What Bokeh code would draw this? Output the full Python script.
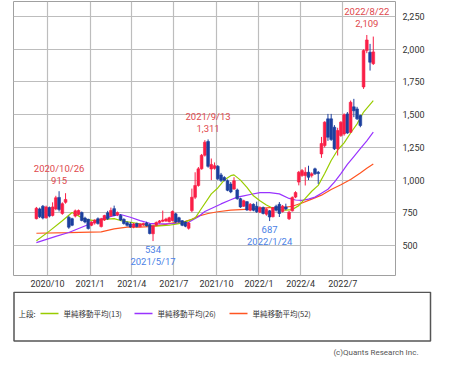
import pandas as pd
from bokeh.plotting import figure
from bokeh.layouts import column
from bokeh.models import ColumnDataSource, Range1d, FixedTicker, NumeralTickFormatter
from bokeh.embed import file_html
from bokeh.resources import INLINE
from bokeh.core.properties import value

# ---------------- data (weekly candles) ----------------
first_week = "2020-09-07"
opens = [705, 780, 800, 712, 790, 730, 780, 868, 745, 830,
         716, 705, 725, 738, 752, 710, 700, 655, 672, 705,
         645, 695, 750, 728, 782, 735, 730, 700, 675, 665,
         642, 668, 645, 658, 672, 660, 590, 655, 676, 685,
         688, 682, 691, 742, 712, 690, 678, 632, 767, 869,
         959, 1086, 1190, 1295, 1085, 1090, 1105, 1040, 1020, 995,
         970, 932, 925, 858, 800, 835, 770, 815, 800, 755,
         790, 740, 765, 720, 800, 815, 760, 795, 705, 765,
         870, 985, 1035, 1035, 1060, 1035, 1086, 1060, 1200, 1264,
         1468, 1468, 1404, 1239, 1341, 1353, 1506, 1366, 1560, 1544,
         1494, 1712, 1990, 1977, 1890]
highs = [795, 790, 810, 805, 798, 830, 880, 915, 830, 900,
         728, 712, 775, 775, 760, 720, 705, 685, 700, 715,
         712, 735, 765, 790, 805, 760, 740, 708, 685, 680,
         672, 675, 670, 675, 682, 668, 662, 684, 695, 767,
         712, 720, 768, 750, 720, 695, 685, 680, 935, 1060,
         1100, 1200, 1305, 1311, 1165, 1135, 1115, 1055, 1030, 1005,
         985, 1022, 935, 865, 850, 840, 825, 822, 835, 800,
         798, 785, 772, 795, 812, 832, 810, 820, 765, 875,
         915, 1070, 1085, 1098, 1110, 1060, 1095, 1070, 1330, 1450,
         1506, 1506, 1420, 1400, 1450, 1510, 1520, 1608, 1621, 1560,
         1500, 2000, 2109, 2041, 2097]
lows = [700, 710, 700, 705, 715, 722, 770, 760, 735, 820,
        628, 648, 715, 730, 685, 670, 622, 648, 660, 660,
        638, 688, 695, 720, 725, 725, 688, 660, 645, 635,
        632, 638, 640, 650, 645, 585, 534, 648, 668, 678,
        680, 676, 684, 672, 672, 648, 640, 622, 755, 855,
        950, 1080, 1180, 1095, 1000, 1080, 1000, 985, 990, 915,
        900, 925, 850, 788, 795, 765, 762, 762, 750, 748,
        738, 728, 687, 715, 760, 718, 752, 770, 695, 760,
        862, 960, 1025, 959, 1000, 1020, 1040, 971, 1170, 1250,
        1300, 1300, 1230, 1188, 1330, 1340, 1353, 1360, 1481, 1460,
        1404, 1697, 1970, 1837, 1880]
closes = [785, 720, 710, 795, 725, 795, 865, 775, 820, 852,
          640, 655, 765, 768, 692, 680, 630, 678, 695, 668,
          704, 729, 705, 768, 730, 752, 695, 668, 655, 642,
          664, 645, 664, 668, 652, 592, 650, 676, 688, 695,
          702, 712, 760, 680, 682, 655, 648, 672, 869, 959,
          1086, 1190, 1290, 1105, 1120, 1110, 1010, 998, 998, 922,
          910, 995, 858, 795, 842, 772, 815, 770, 758, 790,
          745, 778, 718, 790, 770, 745, 800, 780, 755, 868,
          905, 1060, 1073, 1060, 1022, 1048, 1048, 1050, 1280, 1443,
          1328, 1310, 1239, 1379, 1443, 1500, 1360, 1595, 1530, 1468,
          1417, 1990, 2071, 1901, 1980]

# moving averages (week index -> value)
ma13_week = [0, 4, 8, 11, 15, 18, 21, 24, 26, 29, 32, 35, 38, 41, 44, 47, 49, 51, 54, 56,
             58, 60, 61, 63, 65, 67, 69, 71, 73, 75, 77, 79, 81, 83, 85, 87, 89, 91, 93, 95,
             97, 99, 101, 104]
ma13_val = [537, 610, 690, 752, 700, 690, 700, 706, 691, 678, 665, 650, 650, 655, 668, 690, 710, 785, 895, 940,
            1000, 1034, 1040, 1000, 945, 880, 843, 810, 785, 775, 770, 775, 805, 860, 915, 960, 1050, 1150, 1230, 1285,
            1360, 1430, 1520, 1608]
ma26_week = [0, 6, 10, 14, 18, 21, 24, 26, 29, 32, 35, 38, 42, 45, 47, 50, 52, 55, 57, 60,
             62, 64, 66, 69, 72, 75, 78, 80, 82, 84, 86, 88, 90, 92, 94, 96, 98, 100, 102, 104]
ma26_val = [522, 570, 600, 640, 680, 710, 729, 737, 716, 690, 670, 665, 668, 672, 678, 720, 760, 795, 818, 850,
            870, 880, 890, 905, 905, 895, 860, 848, 845, 855, 870, 900, 930, 985, 1050, 1120, 1180, 1240, 1300, 1366]
ma52_week = [0, 10, 20, 24, 28, 32, 36, 40, 43, 46, 48, 50, 53, 56, 60, 66, 72, 76, 79, 82,
             85, 88, 91, 94, 97, 100, 102, 104]
ma52_val = [594, 598, 605, 627, 640, 641, 646, 662, 678, 685, 700, 725, 745, 758, 770, 778, 790, 790, 800, 825,
            855, 885, 928, 965, 1005, 1055, 1090, 1124]
ma_names = ["単純移動平均(13)", "単純移動平均(26)", "単純移動平均(52)"]
ma_colors = ["#99cc00", "#9933ff", "#ff5522"]

high_dates = ["2020-10-26", "2021-09-13", "2022-08-22"]
high_vals = [915, 1311, 2109]
low_dates = ["2021-05-17", "2022-01-24"]
low_vals = [534, 687]

x_tick_dates = ["2020-10-01", "2021-01-01", "2021-04-01", "2021-07-01", "2021-10-01",
                "2022-01-01", "2022-04-01", "2022-07-01"]
x_tick_labels = ["2020/10", "2021/1", "2021/4", "2021/7", "2021/10", "2022/1", "2022/4", "2022/7"]
y_ticks = [500, 750, 1000, 1250, 1500, 1750, 2000, 2250]
copyright_text = "(c)Quants Research Inc."
legend_prefix = "上段:"

# ---------------- build ----------------
FONT = "Roboto"
JFONT = "Noto Sans CJK JP"
RED = "#fa1e46"
BLUE = "#1c3f9e"

weeks = pd.date_range(first_week, periods=len(closes), freq="7D")
up = [c >= o for o, c in zip(opens, closes)]
src = ColumnDataSource(dict(
    t=weeks, o=opens, h=highs, l=lows, c=closes,
    top=[max(o, c) for o, c in zip(opens, closes)],
    bot=[min(o, c) for o, c in zip(opens, closes)],
    col=[RED if u else BLUE for u in up],
))

def ms(d):
    return pd.Timestamp(d).value // 10**6

p = figure(x_axis_type="datetime", y_axis_location="right",
           frame_width=382, frame_height=274,
           min_border_left=13, min_border_top=1, min_border_right=59, min_border_bottom=15,
           x_range=Range1d(pd.Timestamp("2020-07-19 12:00"), pd.Timestamp("2022-10-23")),
           y_range=Range1d(271, 2365),
           output_backend="svg", toolbar_location=None,
           background_fill_color="white", border_fill_color="white")
p.outline_line_color = "#a0a0a0"
p.outline_line_width = 1

xt = [ms(d) for d in x_tick_dates]
p.xaxis.ticker = FixedTicker(ticks=xt)
p.xaxis.major_label_overrides = {t: lab for t, lab in zip(xt, x_tick_labels)}
p.yaxis.ticker = FixedTicker(ticks=y_ticks)
p.yaxis.formatter = NumeralTickFormatter(format="0,0")
for ax in (p.xaxis[0], p.yaxis[0]):
    ax.axis_line_color = None
    ax.major_tick_in = 0
    ax.major_tick_out = 0
    ax.minor_tick_in = 0
    ax.minor_tick_out = 0
    ax.major_label_text_font = FONT
    ax.major_label_text_font_size = "9px"
    ax.major_label_text_color = "#333333"
p.xaxis.major_label_standoff = 3
p.yaxis.major_label_standoff = 7
p.grid.grid_line_color = "#bdbdbd"
p.grid.grid_line_width = 1.2

# moving averages
for wk, vals, col in ((ma52_week, ma52_val, ma_colors[2]),
                      (ma26_week, ma26_val, ma_colors[1]),
                      (ma13_week, ma13_val, ma_colors[0])):
    p.line([weeks[i] for i in wk], vals, line_color=col, line_width=1.2)

# candles
p.segment(x0="t", y0="l", x1="t", y1="h", line_color="col", line_width=1, source=src)
p.vbar(x="t", width=6 * 24 * 3600 * 1000, top="top", bottom="bot",
       fill_color="col", line_color="col", line_width=0.6, source=src)

# annotations for highs / lows
hd = pd.to_datetime(high_dates)
p.text(x=list(hd), y=high_vals, text=[d.strftime("%Y/%-m/%-d") for d in hd],
       text_align="center", text_baseline="middle", y_offset=-23,
       text_font=value(FONT), text_font_size="9.5px", text_color="#e0484c")
p.text(x=list(hd), y=high_vals, text=[f"{v:,}" for v in high_vals],
       text_align="center", text_baseline="middle", y_offset=-11,
       text_font=value(FONT), text_font_size="9.5px", text_color="#e0484c")
ld = pd.to_datetime(low_dates)
p.text(x=list(ld), y=low_vals, text=[f"{v:,}" for v in low_vals],
       text_align="center", text_baseline="middle", y_offset=8,
       text_font=value(FONT), text_font_size="9.5px", text_color="#4a7fe6")
p.text(x=list(ld), y=low_vals, text=[d.strftime("%Y/%-m/%-d") for d in ld],
       text_align="center", text_baseline="middle", y_offset=20,
       text_font=value(FONT), text_font_size="9.5px", text_color="#4a7fe6")

# ---------------- legend panel (data units = page pixels) ----------------
q = figure(width=454, height=72, x_range=Range1d(0, 454), y_range=Range1d(362, 290),
           min_border=0, output_backend="svg", toolbar_location=None,
           background_fill_color="white", border_fill_color="white")
q.axis.visible = False
q.grid.visible = False
q.outline_line_color = None
for fig in (p, q):
    if "frame_align" in fig.properties():
        fig.frame_align = False
q.quad(left=[13.5], right=[430], top=[290.75], bottom=[339.5],
       fill_color=None, line_color="#555555", line_width=1.5)
ly = 312
q.text(x=[18], y=[ly], text=[legend_prefix], text_baseline="middle",
       text_font=value(JFONT), text_font_size="7.5px", text_color="#333333")
gx = [40, 134, 229]
q.segment(x0=gx, y0=[ly] * 3, x1=[g + 18 for g in gx], y1=[ly] * 3,
          line_color=ma_colors, line_width=1.3)
q.text(x=[g + 23 for g in gx], y=[ly] * 3, text=ma_names, text_baseline="middle",
       text_font=value(JFONT), text_font_size="7.5px", text_color="#333333")
q.text(x=[418], y=[351], text=[copyright_text], text_align="right", text_baseline="middle",
       text_font=value(FONT), text_font_size="8px", text_color="#555555")

layout = column(p, q, spacing=0)
open("out.html", "w").write(file_html(layout, INLINE))
